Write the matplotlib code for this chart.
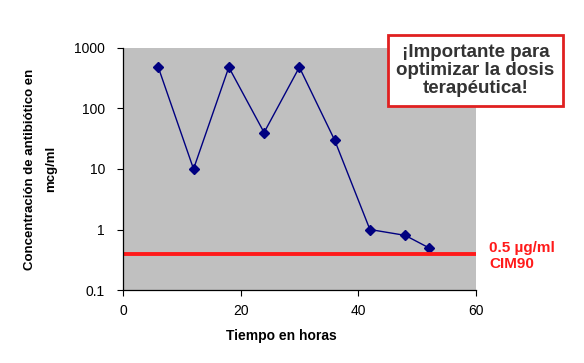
import matplotlib
matplotlib.use("Agg")
import matplotlib.pyplot as plt
from matplotlib.ticker import FixedLocator, NullLocator, FixedFormatter

plt.rcParams['font.family'] = ['Liberation Sans', 'DejaVu Sans']

# Data
hours = [6, 12, 18, 24, 30, 36, 42, 48, 52]
concentration = [480, 10, 480, 40, 480, 30, 1.0, 0.8, 0.5]
cim90 = 0.4
y_ticks = [0.1, 1, 10, 100, 1000]
y_tick_labels = ["0.1", "1", "10", "100", "1000"]
x_ticks = [0, 20, 40, 60]

fig = plt.figure(figsize=(5.84, 3.63), dpi=100)
ax = fig.add_axes([0.2106, 0.201, 0.604, 0.667])
ax.set_facecolor("#c0c0c0")

ax.plot(hours, concentration, color="#000080", marker="D", markersize=5,
        linewidth=1.0)
ax.axhline(cim90, color="#ff1a1a", linewidth=2.8)

ax.set_yscale("log")
ax.set_ylim(0.1, 1000)
ax.set_xlim(0, 60)
ax.yaxis.set_major_locator(FixedLocator(y_ticks))
ax.yaxis.set_major_formatter(FixedFormatter(y_tick_labels))
ax.yaxis.set_minor_locator(NullLocator())
ax.set_xticks(x_ticks)
ax.tick_params(labelsize=10, length=4, width=0.8, direction="out")
ax.tick_params(axis="y", pad=9)
ax.tick_params(axis="x", pad=6)

for s in ["top", "right"]:
    ax.spines[s].set_visible(False)
ax.spines["left"].set_linewidth(0.9)
ax.spines["bottom"].set_linewidth(0.9)

ax.set_xlabel("Tiempo en horas", fontsize=10, fontweight="bold")
ax.xaxis.set_label_coords(0.45, -0.16)
ax.set_ylabel("Concentración de antibiótico en\nmcg/ml", fontsize=9.5,
              fontweight="bold", labelpad=12, linespacing=2.0)

# CIM90 label
fig.text(0.838, 0.295, "0.5 µg/ml\nCIM90", color="#ff1a1a", fontsize=11,
         fontweight="bold", ha="left", va="center", linespacing=1.15)

# Callout box
fig.text(0.814, 0.806, "¡Importante para\noptimizar la dosis\nterapéutica!",
         color="#333333", fontsize=13.5, fontweight="bold", ha="center",
         va="center", linespacing=1.1,
         bbox=dict(boxstyle="square,pad=0.45", facecolor="white",
                   edgecolor="#e02020", linewidth=2))

fig.savefig("out.png", dpi=100)
